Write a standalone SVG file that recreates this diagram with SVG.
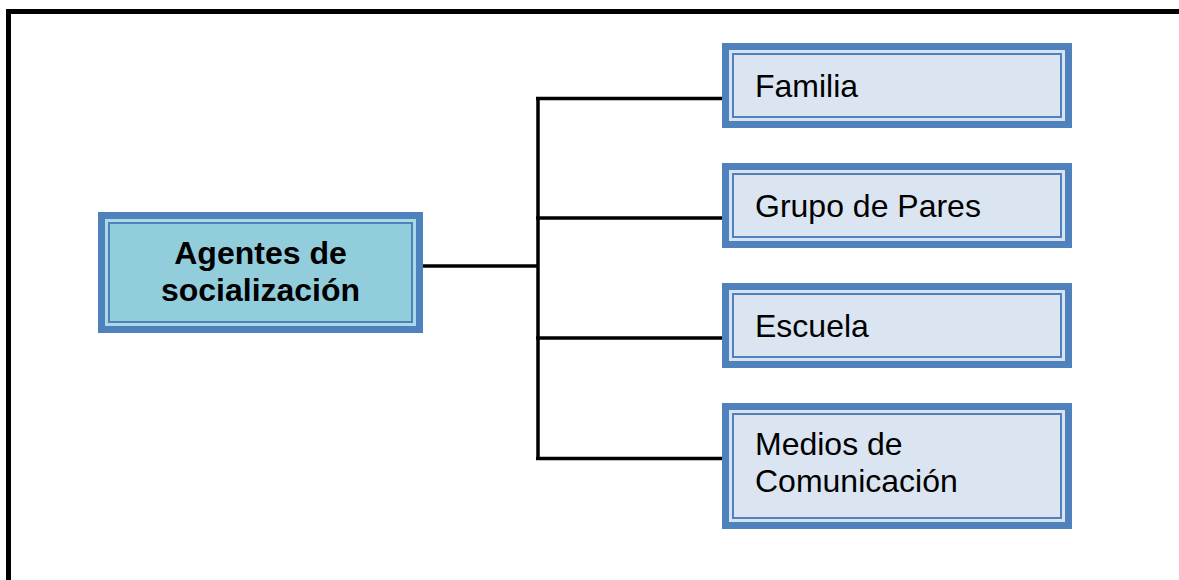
<svg xmlns="http://www.w3.org/2000/svg" width="1179" height="580" viewBox="0 0 1179 580">
<style>
.outer{fill:#4F81BD}
.stripeR{fill:#D7E3F2}
.innerR{fill:#DBE5F1;stroke:#4F81BD;stroke-width:2}
.stripeL{fill:#A9DAE6}
.innerL{fill:#92CDDC;stroke:#4F81BD;stroke-width:2}
.t{font-family:"Liberation Sans",Arial,sans-serif;font-size:32px;fill:#000}
.b{font-weight:bold}
.c{stroke:#000;stroke-width:3.5;fill:none}
</style>
<rect width="1179" height="580" fill="#fff"/>
<rect x="8.5" y="11.5" width="1200" height="620" fill="none" stroke="#000" stroke-width="5"/>
<g id="connectors">
<line class="c" x1="418" y1="266" x2="538" y2="266"/>
<line class="c" x1="538" y1="97" x2="538" y2="460"/>
<line class="c" x1="536" y1="98.5" x2="724" y2="98.5"/>
<line class="c" x1="536" y1="218" x2="724" y2="218"/>
<line class="c" x1="536" y1="338" x2="724" y2="338"/>
<line class="c" x1="536" y1="458.5" x2="724" y2="458.5"/>
</g>
<g id="agentes">
<rect class="outer" x="98" y="212" width="325" height="121"/>
<rect class="stripeL" x="105" y="219" width="311" height="107"/>
<rect class="innerL" x="109" y="223" width="303" height="99"/>
<text class="t b" x="260.5" y="264" text-anchor="middle">Agentes de</text>
<text class="t b" x="260.5" y="301" text-anchor="middle">socialización</text>
</g>
<g id="familia">
<rect class="outer" x="722" y="43" width="350" height="85"/>
<rect class="stripeR" x="729" y="50" width="336" height="71"/>
<rect class="innerR" x="733" y="54" width="328" height="63"/>
<text class="t" x="755" y="97">Familia</text>
</g>
<g id="pares">
<rect class="outer" x="722" y="163" width="350" height="85"/>
<rect class="stripeR" x="729" y="170" width="336" height="71"/>
<rect class="innerR" x="733" y="174" width="328" height="63"/>
<text class="t" x="755" y="217">Grupo de Pares</text>
</g>
<g id="escuela">
<rect class="outer" x="722" y="283" width="350" height="85"/>
<rect class="stripeR" x="729" y="290" width="336" height="71"/>
<rect class="innerR" x="733" y="294" width="328" height="63"/>
<text class="t" x="755" y="337">Escuela</text>
</g>
<g id="medios">
<rect class="outer" x="722" y="403" width="350" height="126"/>
<rect class="stripeR" x="729" y="410" width="336" height="112"/>
<rect class="innerR" x="733" y="414" width="328" height="104"/>
<text class="t" x="755" y="455">Medios de</text>
<text class="t" x="755" y="492">Comunicación</text>
</g>
</svg>
